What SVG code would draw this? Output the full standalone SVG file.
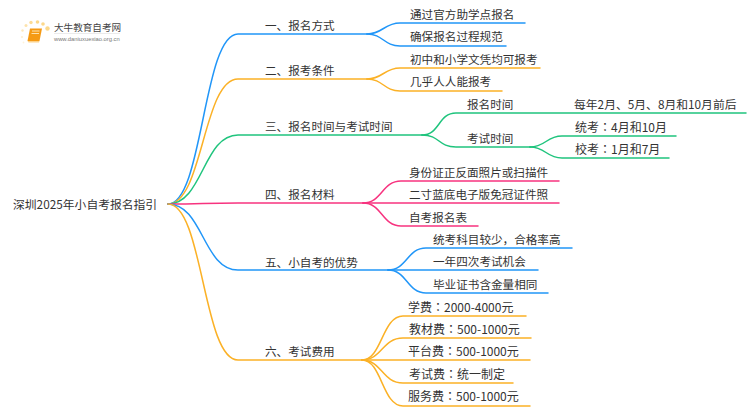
<svg xmlns="http://www.w3.org/2000/svg" width="750" height="410" viewBox="0 0 750 410">
<style>
text{font-family:"Noto Sans CJK SC","Liberation Sans",sans-serif;font-size:11.600px;fill:#333}
text.t{font-family:"Noto Sans CJK TC","Liberation Sans",sans-serif;font-size:12px}
text.r{font-size:11.800px}
.c{fill:none;stroke-width:1.5;stroke-linecap:round}
.b{stroke:#2196f8}.o{stroke:#fbb126}.g{stroke:#1fc47d}.p{stroke:#f7337f}
</style>
<rect width="750" height="410" fill="#fff"/>
<g id="logo">
<circle cx="47.500" cy="28.500" r="2.200" fill="#fcd88a"/><circle cx="43" cy="24" r="1.800" fill="#fcd88a"/><circle cx="37.500" cy="22" r="1.800" fill="#fcd88a"/><circle cx="31" cy="22.500" r="1.700" fill="#fcdc96"/><circle cx="26" cy="25.500" r="1.500" fill="#fde3ac"/><circle cx="22.500" cy="30.500" r="1.200" fill="#fde8bd"/><circle cx="22" cy="37" r="1" fill="#feeecf"/><circle cx="23.500" cy="42.500" r="0.900" fill="#fef2db"/>
<path d="M30 28.500H42L39.500 41H27.500Z" fill="#f59a14"/><path d="M27.500 41H39.500L39 42.500H28.500Z" fill="#fcd28a"/><path d="M32 31H39.500M31.500 33.500H39" stroke="#fde2ad" stroke-width="1" fill="none"/>
<text x="54" y="31" style="font-size:9.600px;fill:#444">大牛教育自考网</text>
<path d="M54 33.500H120" stroke="#ddd" stroke-width="0.600"/>
<text x="54" y="41" style="font-size:5.800px;fill:#777;font-family:'Liberation Sans',sans-serif">www.daniuxuexiao.org.cn</text>
</g>
<g id="connectors">
<path class="c b" d="M168 204C203 204 203 34 238 34H367"/>
<path class="c o" d="M168 204C203 204 203 79 238 79H367"/>
<path class="c g" d="M168 204C203 204 203 135 238 135H422"/>
<path class="c p" d="M168 204C203 204 203 203 238 203H363"/>
<path class="c b" d="M168 204C203 204 203 270 238 270H388"/>
<path class="c o" d="M168 204C203 204 203 360 238 360H362"/>
<path class="c b" d="M367 34C383 34 384 23 400 23H525"/>
<path class="c b" d="M367 34C383 34 384 46 400 46H506"/>
<path class="c o" d="M367 79C383 79 384 68 400 68H540"/>
<path class="c o" d="M367 79C383 79 384 91 400 91H502"/>
<path class="c g" d="M422 135C440 135 438 113 456 113H746"/>
<path class="c g" d="M422 135C440 135 438 147 456 147H530"/>
<path class="c g" d="M530 147C546 147 546 136 562 136H676"/>
<path class="c g" d="M530 147C546 147 546 158 562 158H669"/>
<path class="c p" d="M363 203C382 203 382 181 401 181H559"/>
<path class="c p" d="M363 203H559"/>
<path class="c p" d="M363 203C382 203 382 226 401 226H478"/>
<path class="c b" d="M388 270C407 270 407 248 426 248H572"/>
<path class="c b" d="M388 270H538"/>
<path class="c b" d="M388 270C407 270 407 293 426 293H548"/>
<path class="c o" d="M362 360C382 360 382 316 403 316H526"/>
<path class="c o" d="M362 360C382 360 382 338 403 338H531"/>
<path class="c o" d="M362 360H530"/>
<path class="c o" d="M362 360C382 360 382 383 403 383H513"/>
<path class="c o" d="M362 360C382 360 382 406 403 406H530"/>
</g>
<g id="root"><text class="r" x="13" y="209">深圳2025年小自考报名指引</text></g>
<g id="n1"><text x="265" y="30">一、报名方式</text></g>
<g id="n1a"><text x="410" y="19">通过官方助学点报名</text></g>
<g id="n1b"><text x="410" y="41">确保报名过程规范</text></g>
<g id="n2"><text x="265" y="75">二、报考条件</text></g>
<g id="n2a"><text x="410" y="64">初中和小学文凭均可报考</text></g>
<g id="n2b"><text x="410" y="86">几乎人人能报考</text></g>
<g id="n3"><text x="265" y="131">三、报名时间与考试时间</text></g>
<g id="n3a"><text x="467" y="109">报名时间</text></g>
<g id="n3a1"><text class="r" x="574" y="109">每年2月、5月、8月和10月前后</text></g>
<g id="n3b"><text x="467" y="143">考试时间</text></g>
<g id="n3b1"><text class="t" x="575" y="132">统考：4月和10月</text></g>
<g id="n3b2"><text class="t" x="575" y="154">校考：1月和7月</text></g>
<g id="n4"><text x="265" y="199">四、报名材料</text></g>
<g id="n4a"><text x="409" y="177">身份证正反面照片或扫描件</text></g>
<g id="n4b"><text x="409" y="199">二寸蓝底电子版免冠证件照</text></g>
<g id="n4c"><text x="409" y="222">自考报名表</text></g>
<g id="n5"><text x="265" y="267">五、小自考的优势</text></g>
<g id="n5a"><text x="433" y="244">统考科目较少，合格率高</text></g>
<g id="n5b"><text x="433" y="266">一年四次考试机会</text></g>
<g id="n5c"><text x="433" y="289">毕业证书含金量相同</text></g>
<g id="n6"><text x="265" y="356">六、考试费用</text></g>
<g id="n6a"><text class="t" x="408" y="312">学费：2000-4000元</text></g>
<g id="n6b"><text class="t" x="409" y="334">教材费：500-1000元</text></g>
<g id="n6c"><text class="t" x="408" y="356">平台费：500-1000元</text></g>
<g id="n6d"><text class="t" x="409" y="379">考试费：统一制定</text></g>
<g id="n6e"><text class="t" x="408" y="401">服务费：500-1000元</text></g>
</svg>
